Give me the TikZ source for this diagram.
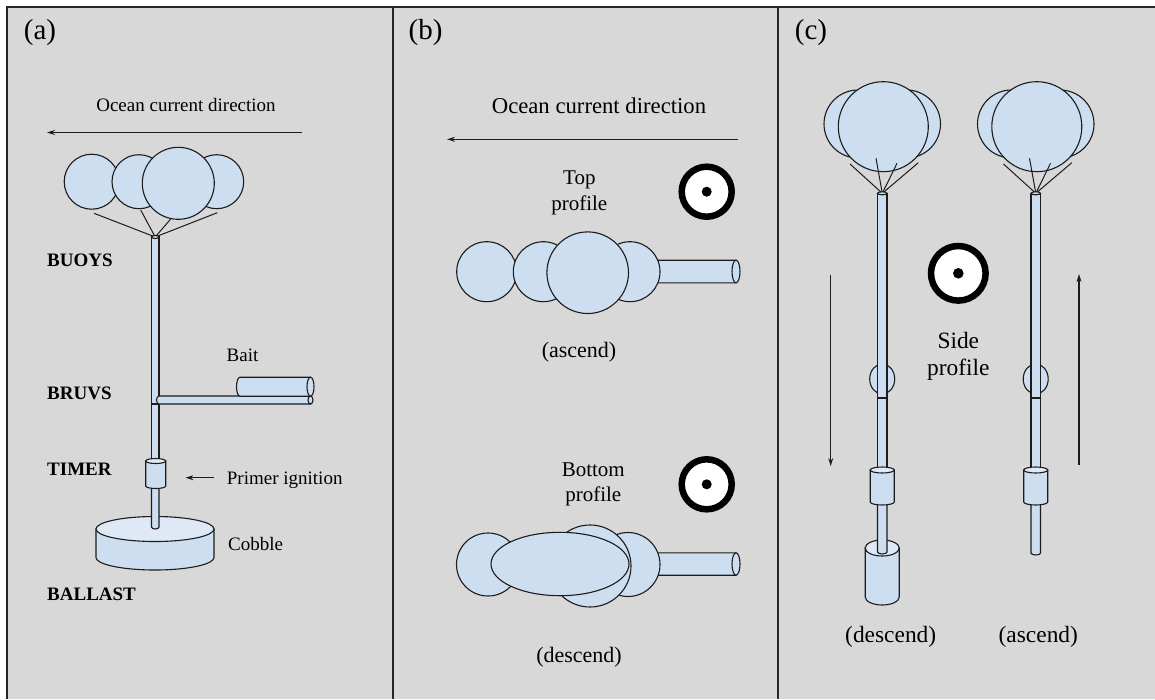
\documentclass[tikz,border=0pt]{standalone}
\usepackage{fontspec}
\setmainfont{Liberation Serif}
\usetikzlibrary{arrows.meta}
\definecolor{panelgray}{RGB}{216,216,216}
\definecolor{partblue}{RGB}{204,222,239}
\definecolor{parttop}{RGB}{222,233,245}
\definecolor{ink}{RGB}{28,28,28}
% vertical cylinder: centre x, top y, bottom y, x radius, y radius
\newcommand\vcylinder[5]{%
  \draw[part] (#1-#4,#2) -- (#1-#4,#3)
    arc[start angle=180,end angle=360,x radius=#4pt,y radius=#5pt]
    -- (#1+#4,#2) -- cycle;
  \draw[part,fill=parttop] (#1,#2) ellipse[x radius=#4pt,y radius=#5pt];}
% horizontal tube with a rounded left end: left x, right x, centre y, x radius, y radius
\newcommand\htube[5]{%
  \draw[part] (#2,#3-#5) -- (#1,#3-#5)
    arc[start angle=90,end angle=270,x radius=#4pt,y radius=#5pt]
    -- (#2,#3+#5) -- cycle;
  \draw[part] (#2,#3) ellipse[x radius=#4pt,y radius=#5pt];}
% vertical pole with a rounded lower end: left x, right x, top y, bottom y
\newcommand\polerounded[4]{%
  \draw[part] (#1,#3) -- (#1,#4)
    arc[start angle=180,end angle=360,x radius=(#2-#1)/2*1pt,y radius=2pt]
    -- (#2,#3) -- cycle;}
\begin{document}
\begin{tikzpicture}[x=1pt,y=-1pt,
  part/.style={draw=ink,fill=partblue,line width=1.1pt},
  rope/.style={draw=ink,line width=1pt},
  frame/.style={draw=black!85,line width=2pt},
  flow/.style={draw=ink,line width=1.2pt,-{Stealth[length=8pt,width=5pt]}},
  target/.style={draw=black,line width=6.5pt,fill=white},
  panellabel/.style={inner sep=0pt,anchor=base,font=\fontsize{29}{31}\selectfont},
  txta/.style={inner sep=0pt,anchor=base,font=\fontsize{19}{21}\selectfont},
  txtb/.style={inner sep=0pt,anchor=base,align=center,font=\fontsize{21}{25.5}\selectfont},
  txtc/.style={inner sep=0pt,anchor=base,align=center,font=\fontsize{23.4}{27}\selectfont},
  partname/.style={inner sep=0pt,anchor=base west,font=\fontsize{19}{21}\selectfont\bfseries},
]
\useasboundingbox (0,0) rectangle (1155,699);
\fill[white] (0,0) rectangle (1155,699);
\fill[panelgray] (7,7) rectangle (1155,699);
\draw[frame] (1155,7) -- (7,7) -- (7,699);
\draw[frame] (393,7) -- (393,699);
\draw[frame] (778,7) -- (778,699);

% ---------------- panel (a): the whole rig ----------------
\node[panellabel] (la) at (40,39) {(a)};
\node[txta] (curA) at (186,111.5) {Ocean current direction};
\coordinate (curAfrom) at (302,132.5);
\coordinate (curAto) at (47,132.5);
\draw[flow] (curAfrom) -- (curAto);

% buoys
\draw[part] (91.7,181.7) circle[radius=27.5pt];
\draw[part] (216.7,181.7) circle[radius=27pt];
\draw[part] (139,181.7) circle[radius=27pt];
\draw[part] (178.3,183.3) circle[radius=36pt];
\coordinate (topA) at (155.2,237);
\draw[rope] (94,213.3) -- (topA);
\draw[rope] (140.7,210) -- (topA);
\draw[rope] (170.7,219) -- (topA);
\draw[rope] (217.3,212.7) -- (topA);

% ballast stone
\vcylinder{155}{529}{557.5}{59}{12.5}

% pole, camera arm and bait
\draw[part] (151.5,237) rectangle (159,404);
\draw[part] (155.25,237) ellipse[x radius=3.75pt,y radius=1.5pt];
\draw[part] (151.5,404) rectangle (159,461);
\polerounded{151.5}{159}{486}{527}
\htube{159}{310.5}{400}{2.5}{4}
\htube{240}{310.5}{386.7}{3.5}{9.5}
\vcylinder{155.7}{461}{486}{10}{2.5}

\node[partname] (buoys) at (47,266.5) {BUOYS};
\node[partname] (bruvs) at (47,399) {BRUVS};
\node[partname] (timer) at (47,475) {TIMER};
\node[partname] (ballast) at (47,600.5) {BALLAST};
\node[txta] (bait) at (242.5,361.5) {Bait};
\node[txta,anchor=base west] (primer) at (226.7,484) {Primer ignition};
\node[txta,anchor=base west] (cobble) at (228,550) {Cobble};
\coordinate (primerfrom) at (214,477.7);
\coordinate (primerto) at (185.5,477.7);
\draw[flow,line width=1pt] (primerfrom) -- (primerto);

% ---------------- panel (b): seen from above and below ----------------
\node[panellabel] (lb) at (425.5,39) {(b)};
\node[txtb,font=\fontsize{22.7}{25}\selectfont] (curB) at (599,113) {Ocean current direction};
\coordinate (curBfrom) at (737.5,139.3);
\coordinate (curBto) at (447,139.3);
\draw[flow] (curBfrom) -- (curBto);

\node[txtb] (topprof) at (579.3,210) {Top\\profile};
\draw[target] (706.7,191.7) circle[radius=25pt];
\fill[black] (706.7,191.7) circle[radius=5pt];

\htube{650}{736}{271.5}{4}{11.3}
\draw[part] (486.7,271.7) circle[radius=30pt];
\draw[part] (543.3,271.7) circle[radius=30pt];
\draw[part] (630,271.7) circle[radius=30pt];
\draw[part] (587.7,272.7) circle[radius=40.8pt];
\node[txtb,font=\fontsize{22}{25}\selectfont] (ascB) at (579,357.6) {(ascend)};

\node[txtb] (botprof) at (593.3,501.7) {Bottom\\profile};
\draw[target] (706.7,484.3) circle[radius=25pt];
\fill[black] (706.7,484.3) circle[radius=5pt];

\htube{650}{736}{564}{4}{11.2}
\draw[part] (488,564.5) circle[radius=31.5pt];
\draw[part] (543,564) circle[radius=30pt];
\draw[part] (628,564.5) circle[radius=32pt];
\draw[part] (590,566) circle[radius=41pt];
\draw[part] (560,564) ellipse[x radius=69pt,y radius=31.7pt];
\node[txtb,font=\fontsize{22}{25}\selectfont] (desB) at (579,662.6) {(descend)};

% ---------------- panel (c): seen from the side ----------------
\node[panellabel] (lc) at (811,39) {(c)};

% descending rig, with ballast
\draw[part] (858,124) circle[radius=34pt];
\draw[part] (906.5,124) circle[radius=34pt];
\draw[part] (883.3,126.7) circle[radius=45pt];
\coordinate (topC1) at (882.3,193.3);
\draw[rope] (850,164) -- (topC1);
\draw[rope] (876,158.3) -- (topC1);
\draw[rope] (897,163.3) -- (topC1);
\draw[rope] (918.3,162.7) -- (topC1);
\vcylinder{882.2}{548}{597}{17}{8}
\draw[part] (882.2,379) ellipse[x radius=12.5pt,y radius=15pt];
\draw[part] (877.5,193.3) rectangle (887,398);
\draw[part] (882.25,193.3) ellipse[x radius=4.75pt,y radius=1.5pt];
\draw[part] (877.5,398) rectangle (887,470);
\polerounded{877.5}{887}{502}{552}
\vcylinder{882.2}{470}{502}{12}{3}

% ascending rig, ballast released
\draw[part] (1011.5,124) circle[radius=34pt];
\draw[part] (1060,124) circle[radius=34pt];
\draw[part] (1036.8,126.7) circle[radius=45pt];
\coordinate (topC2) at (1035.8,193.3);
\draw[rope] (1003.5,164) -- (topC2);
\draw[rope] (1029.5,158.3) -- (topC2);
\draw[rope] (1050.5,163.3) -- (topC2);
\draw[rope] (1071.8,162.7) -- (topC2);
\draw[part] (1035.7,379) ellipse[x radius=12.5pt,y radius=15pt];
\draw[part] (1031,193.3) rectangle (1040.5,398);
\draw[part] (1035.75,193.3) ellipse[x radius=4.75pt,y radius=1.5pt];
\draw[part] (1031,398) rectangle (1040.5,470);
\polerounded{1031}{1040.5}{502}{553}
\vcylinder{1035.7}{470}{502}{12}{3}

\coordinate (downfrom) at (830.7,275);
\coordinate (downto) at (830.7,466);
\draw[flow] (downfrom) -- (downto);
\coordinate (upfrom) at (1079,465);
\coordinate (upto) at (1079,274);
\draw[flow] (upfrom) -- (upto);

\draw[target] (958.3,273.3) circle[radius=27.3pt];
\fill[black] (958.3,273.3) circle[radius=5.3pt];
\node[txtc] (sideprof) at (958.3,375) {Side\\profile};
\node[txtc] (desC) at (890.7,642.5) {(descend)};
\node[txtc] (ascC) at (1038.3,642.5) {(ascend)};
\end{tikzpicture}
\end{document}
